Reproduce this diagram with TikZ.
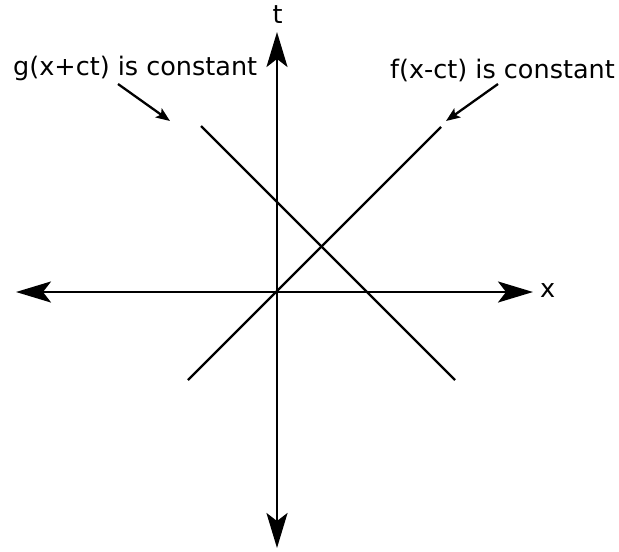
\documentclass[tikz,border=0pt]{standalone}
\usepackage{fontspec}
\setmainfont{DejaVu Sans}
\usetikzlibrary{arrows.meta}
\begin{document}
\begin{tikzpicture}[x=1pt,y=-1pt,
  axis/.style={line width=2.5pt,
    {Stealth[length=35pt,width=21pt,inset=8pt]}-{Stealth[length=35pt,width=21pt,inset=8pt]}},
  wave/.style={line width=2.3pt},
  pointer/.style={line width=2.3pt,-{Stealth[length=14pt,width=11pt,inset=3pt]}},
  lbl/.style={font=\fontsize{25.5}{30}\selectfont, inner sep=0pt, anchor=base west}]
\useasboundingbox (0,0) rectangle (619,552);
% axes
\coordinate (xl) at (16,292);
\coordinate (xr) at (533,292);
\coordinate (tt) at (277,32);
\coordinate (tb) at (277,548);
\draw[axis] (xl) -- (xr);
\draw[axis] (tb) -- (tt);
% characteristic lines
\coordinate (f1) at (188,380);
\coordinate (f2) at (441,127);
\coordinate (g1) at (201,126);
\coordinate (g2) at (455,380);
\draw[wave] (f1) -- (f2);
\draw[wave] (g1) -- (g2);
% labels
\node[lbl, anchor=base] (tlab) at (277.5,23) {t};
\node[lbl] (xlab) at (540,297) {x};
\node[lbl] (glab) at (13,75.5) {g(x+ct) is constant};
\node[lbl] (flab) at (390,78) {f(x-ct) is constant};
% pointers
\coordinate (gp) at (118,84);
\coordinate (gt) at (170,121);
\coordinate (fp) at (498,84);
\coordinate (ft) at (446,121);
\draw[pointer] (gp) -- (gt);
\draw[pointer] (fp) -- (ft);
\end{tikzpicture}
\end{document}
